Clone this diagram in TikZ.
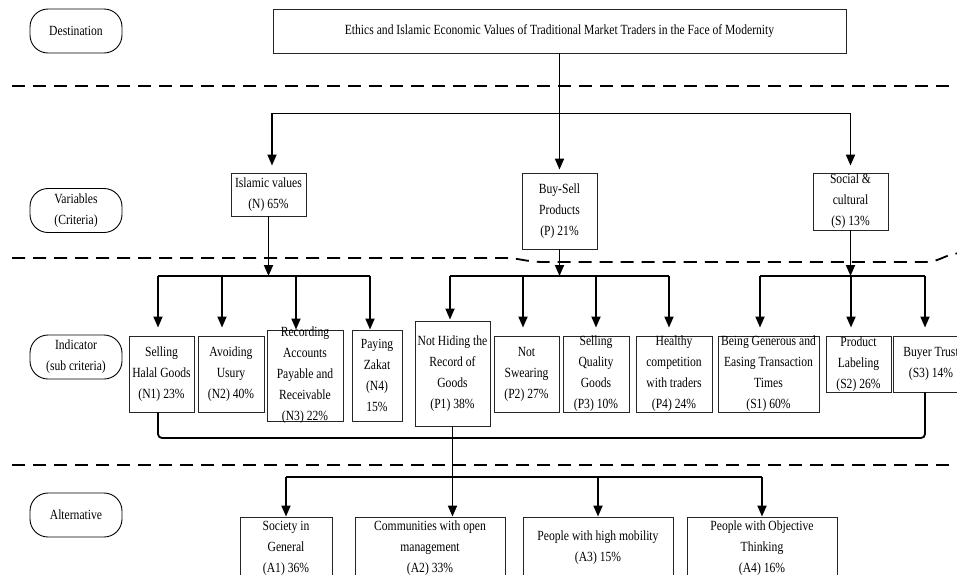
\documentclass[tikz,border=0pt]{standalone}
\usepackage{fontspec}
\setmainfont{Liberation Serif}[FakeStretch=0.83]
\usetikzlibrary{arrows.meta,calc}

\begin{document}
\begin{tikzpicture}[x=1pt, y=-1pt,
    level/.style={rectangle, draw, rounded corners=18pt, line width=0.9pt, minimum width=92pt,
                 minimum height=44pt, align=center, inner sep=0pt, font=\fontsize{14}{21}\selectfont},
    cbox/.style 2 args={rectangle, draw=black!85, line width=0.9pt, inner sep=0pt,
                 minimum width=#1, minimum height=#2},
    lbl/.style={align=center, inner sep=0pt, font=\fontsize{14}{21}\selectfont},
    link/.style={line width=1.8pt},
    arr/.style={-{Triangle[length=11pt,width=9pt]}, line width=1.8pt},
    sep/.style={line width=1.8pt, dash pattern=on 13pt off 8pt}
]
    \useasboundingbox (0,0) rectangle (957,574);

    % levels
    \node[level] (dest) at (76,31) {Destination};
    \node[level] (vars) at (76,210.5) {Variables\\(Criteria)};
    \node[level] (ind)  at (76,357) {Indicator\\(sub criteria)};
    \node[level] (alt)  at (76,515) {Alternative};

    \draw[sep] (12,86) -- (957,86);
    \draw[sep] (12,258) -- (505,258) .. controls (520,258) and (525,262) .. (545,262) -- (925,262)
        .. controls (940,262) and (945,254) .. (960,253);
    \draw[sep] (12,465) -- (957,465);

    % goal
    \node[cbox={573pt}{44pt}, font=\fontsize{14}{21}\selectfont] (goal) at (559.5,31)
        {Ethics and Islamic Economic Values of Traditional Market Traders in the Face of Modernity};

    % criteria
    \node[cbox={75pt}{43pt}, label={[lbl]center:{Islamic values\\(N) 65\%}}] (isl) at (268.5,194.5) {};
    \node[cbox={75pt}{76pt}, label={[lbl]center:{Buy-Sell\\Products\\(P) 21\%}}] (bs) at (559.5,211) {};
    \node[cbox={75pt}{57pt}, label={[lbl]center:{Social \&\\cultural\\(S) 13\%}}] (soc) at (850.5,201.5) {};

    % sub criteria
    \node[cbox={65pt}{76pt}, label={[lbl]center:{Selling\\Halal Goods\\(N1) 23\%}}] (n1) at (161.5,374) {};
    \node[cbox={66pt}{76pt}, label={[lbl]center:{Avoiding\\Usury\\(N2) 40\%}}] (n2) at (231,374) {};
    \node[cbox={76pt}{91pt}, label={[lbl]center:{Recording\\Accounts\\Payable and\\Receivable\\(N3) 22\%}}] (n3) at (305,375.5) {};
    \node[cbox={50pt}{91pt}, label={[lbl]center:{Paying\\Zakat\\(N4)\\15\%}}] (n4) at (377,375.5) {};
    \node[cbox={75pt}{105pt}, label={[lbl]center:{Not Hiding the\\Record of\\Goods\\(P1) 38\%}}] (p1) at (452.5,373.5) {};
    \node[cbox={65pt}{76pt}, label={[lbl]center:{Not\\Swearing\\(P2) 27\%}}] (p2) at (526.5,374) {};
    \node[cbox={66pt}{76pt}, label={[lbl]center:{Selling\\Quality\\Goods\\(P3) 10\%}}] (p3) at (596,374) {};
    \node[cbox={76pt}{76pt}, label={[lbl]center:{Healthy\\competition\\with traders\\(P4) 24\%}}] (p4) at (674,374) {};
    \node[cbox={101pt}{76pt}, label={[lbl]center:{Being Generous and\\Easing Transaction\\Times\\(S1) 60\%}}] (s1) at (768.5,374) {};
    \node[cbox={65pt}{56pt}, label={[lbl]center:{Product\\Labeling\\(S2) 26\%}}] (s2) at (858.5,364) {};
    \node[cbox={76pt}{56pt}, label={[lbl]center:{Buyer Trust\\(S3) 14\%}}] (s3) at (931,364) {};

    % alternatives
    \node[cbox={92pt}{62pt}, label={[lbl]center:{Society in\\General\\(A1) 36\%}}] (a1) at (286,548) {};
    \node[cbox={150pt}{62pt}, label={[lbl]center:{Communities with open\\management\\(A2) 33\%}}] (a2) at (430,548) {};
    \node[cbox={150pt}{62pt}, label={[lbl]center:{People with high mobility\\(A3) 15\%}}] (a3) at (598,548) {};
    \node[cbox={150pt}{62pt}, label={[lbl]center:{People with Objective\\Thinking\\(A4) 16\%}}] (a4) at (762,548) {};

    % goal -> criteria
    \draw[link] (goal.south) -- ++(0,60) coordinate (vb);
    \draw[arr, shorten >=3pt] (vb) -- (bs.north);
    \draw[arr, shorten >=7pt] (vb) -| ($(isl.north)+(3.5,0)$);
    \draw[arr, shorten >=7pt] (vb) -| (soc.north);

    % criteria -> sub criteria
    \coordinate (nbus) at (0,276);
    \draw[arr] (isl.south) -- (isl.south |- nbus);
    \draw[arr] (bs.south) -- (bs.south |- nbus);
    \draw[arr] (soc.south) -- (soc.south |- nbus);
    \draw[link] (158,276) -- (370,276);
    \draw[link] (450,276) -- (669,276);
    \draw[link] (760,276) -- (925,276);
    \foreach \x/\t/\g in {158/n1/8, 222/n2/8, 296/n3/0, 370/n4/0, 450/p1/1, 523/p2/8,
                          596/p3/8, 669/p4/8, 760/s1/8, 851/s2/8, 925/s3/8}
        \draw[arr, shorten >=\g pt] (\x,276) -- (\x,0 |- \t.north);

    % sub criteria -> alternatives
    \draw[link, rounded corners=4pt] (158,0 |- n1.south) |- (600,438) -| (925,0 |- s3.south);
    \coordinate (abus) at (0,477);
    \draw[link] (abus -| a1.north) -- (abus -| a4.north);
    \draw[arr] (p1.south) -- (p1.south |- a2.north);
    \draw[arr] (abus -| a1.north) -- (a1.north);
    \draw[arr] (abus -| a3.north) -- (a3.north);
    \draw[arr] (abus -| a4.north) -- (a4.north);
\end{tikzpicture}
\end{document}
